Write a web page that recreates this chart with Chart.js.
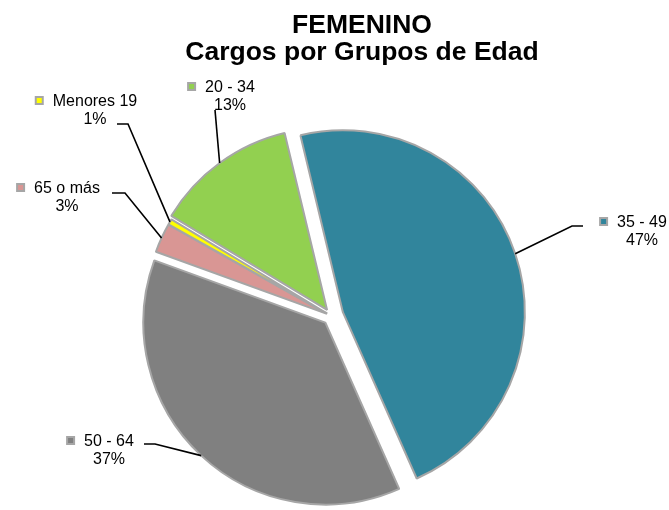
<!DOCTYPE html>
<html>
<head>
  <title>FEMENINO - Cargos por Grupos de Edad</title>
  <script src="https://cdn.jsdelivr.net/npm/chart.js"></script>
  <style>
    body { margin: 0; background: #fff; }
    #wrap { position: relative; width: 669px; height: 510px; }
  </style>
</head>
<body>
  <div id="wrap"><canvas id="pieChart"></canvas></div>

  <script>
    // --- Data ---
    const titleLines = ['FEMENINO', 'Cargos por Grupos de Edad'];
    const groups = ['35 - 49', '50 - 64', '65 o más', 'Menores 19', '20 - 34'];
    const shares = [47.1, 37.2, 2.6, 0.5, 12.6];

    // --- Look ---
    const colors = ['#31859c', '#808080', '#d99694', '#ffff00', '#92d050'];
    const explode = [12, 9, 5, 5, 7.5];
    // text centre x, first baseline y, leader line end [x, y] and elbow [x, y]
    const labelPos = [
      { x: 642, y: 227, end: [583, 226], elbow: [572, 226] },
      { x: 109, y: 446, end: [144, 444], elbow: [155, 444] },
      { x: 67,  y: 193, end: [112, 193], elbow: [125, 193] },
      { x: 95,  y: 106, end: [117, 124], elbow: [128, 124] },
      { x: 230, y: 92,  end: [215, 110], elbow: [215, 110] }
    ];
    const FONT = '"Liberation Sans", Arial, sans-serif';

    const total = shares.reduce((a, b) => a + b, 0);
    const pct = v => Math.round(v / total * 100) + '%';

    // --- Pull slices out of the pie along their middle angle ---
    const explodePlugin = {
      id: 'explode',
      afterDatasetsUpdate(chart) {
        chart.getDatasetMeta(0).data.forEach((arc, i) => {
          const mid = (arc.startAngle + arc.endAngle) / 2;
          arc.x += Math.cos(mid) * explode[i];
          arc.y += Math.sin(mid) * explode[i];
        });
      }
    };

    // --- Title, leader lines and labels ---
    const labelPlugin = {
      id: 'sliceLabels',
      afterDraw(chart) {
        const ctx = chart.ctx;
        const arcs = chart.getDatasetMeta(0).data;
        ctx.save();
        ctx.fillStyle = '#000';
        ctx.textAlign = 'center';
        ctx.textBaseline = 'alphabetic';
        ctx.font = 'bold 26.5px ' + FONT;
        titleLines.forEach((t, i) => ctx.fillText(t, 362, 33 + i * 27));

        ctx.strokeStyle = '#000';
        ctx.lineWidth = 1.6;
        arcs.forEach((arc, i) => {
          const p = labelPos[i];
          const mid = (arc.startAngle + arc.endAngle) / 2;
          const ex = arc.x + Math.cos(mid) * arc.outerRadius;
          const ey = arc.y + Math.sin(mid) * arc.outerRadius;
          ctx.beginPath();
          ctx.moveTo(ex, ey);
          ctx.lineTo(p.elbow[0], p.elbow[1]);
          ctx.lineTo(p.end[0], p.end[1]);
          ctx.stroke();

          ctx.font = '16px ' + FONT;
          ctx.fillStyle = '#000';
          ctx.fillText(groups[i], p.x, p.y);
          ctx.fillText(pct(shares[i]), p.x, p.y + 18);

          // legend key in front of the category name
          const w = ctx.measureText(groups[i]).width;
          const kx = p.x - w / 2 - 18;
          const ky = p.y - 10;
          ctx.fillStyle = '#a6a6a6';
          ctx.fillRect(kx, ky, 9, 9);
          ctx.fillStyle = colors[i];
          ctx.fillRect(kx + 2, ky + 2, 5, 5);
        });
        ctx.restore();
      }
    };

    const chart = new Chart(document.getElementById('pieChart'), {
      type: 'pie',
      data: {
        labels: groups,
        datasets: [{
          data: shares,
          backgroundColor: colors,
          borderColor: '#a6a6a6',
          borderWidth: 2,
          clip: false
        }]
      },
      options: {
        responsive: true,
        maintainAspectRatio: false,
        animation: false,
        rotation: -13.5,
        layout: { padding: { top: 133, bottom: 11, left: 130, right: 136 } },
        plugins: {
          legend: { display: false },
          title: { display: false },
          tooltip: { enabled: false }
        }
      },
      plugins: [explodePlugin, labelPlugin]
    });
  </script>
</body>
</html>
